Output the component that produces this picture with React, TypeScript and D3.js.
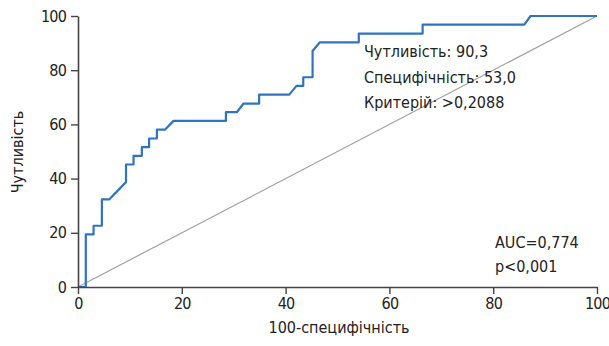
import React, { useEffect, useRef } from 'react';
import * as d3 from 'd3';

// ROC curve vertices (100-specificity, sensitivity)
const fprValues = [0, 1.5, 1.5, 3, 3, 4.6, 4.6, 6.0, 9.25, 9.25, 10.7, 10.7, 12.3, 12.3, 13.7, 13.7, 15.2, 15.2, 16.8, 18.4, 28.5, 28.5, 30.6, 31.9, 34.9, 34.9, 40.7, 42.1, 43.4, 43.4, 45.2, 45.2, 46.6, 54.1, 54.1, 66.4, 66.4, 86.0, 87.2, 100];
const tprValues = [0, 0, 19.4, 19.4, 22.6, 22.6, 32.3, 32.3, 38.7, 45.2, 45.2, 48.4, 48.4, 51.6, 51.6, 54.8, 54.8, 58.1, 58.1, 61.3, 61.3, 64.5, 64.5, 67.7, 67.7, 71.0, 71.0, 74.2, 74.2, 77.4, 77.4, 87.1, 90.3, 90.3, 93.5, 93.5, 96.8, 96.8, 100, 100];
const tickValues = [0, 20, 40, 60, 80, 100];
const cutoffLines = ['Чутливість: 90,3', 'Специфічність: 53,0', 'Критерій: >0,2088'];
const statLines = ['AUC=0,774', 'p<0,001'];
const xTitle = '100-специфічність';
const yTitle = 'Чутливість';

const FONT = '"Liberation Sans Narrow", "DejaVu Sans Condensed", "Roboto", sans-serif';

const App = () => {
    const svgRef = useRef<SVGSVGElement>(null);

    useEffect(() => {
        const svg = d3.select(svgRef.current);
        svg.selectAll('*').remove();

        const x = d3.scaleLinear().domain([0, 100]).range([78, 597]);
        const y = d3.scaleLinear().domain([0, 100]).range([287, 16]);

        const points: [number, number][] = fprValues.map((v, i) => [v, tprValues[i]]);

        // reference diagonal
        svg.append('line')
            .attr('x1', x(0)).attr('y1', y(0))
            .attr('x2', x(100)).attr('y2', y(100))
            .attr('stroke', '#a0a0a0')
            .attr('stroke-width', 1.2);

        const line = d3.line<[number, number]>()
            .x(d => x(d[0]))
            .y(d => y(d[1]));

        svg.append('path')
            .attr('d', line(points))
            .attr('fill', 'none')
            .attr('stroke', '#2f74bf')
            .attr('stroke-width', 2.2)
            .attr('stroke-linejoin', 'round');

        const xAxis = svg.append('g')
            .attr('transform', `translate(0, ${y(0)})`)
            .call(d3.axisBottom(x).tickValues(tickValues).tickSize(7).tickSizeOuter(0).tickPadding(4));
        const yAxis = svg.append('g')
            .attr('transform', `translate(${x(0)}, 0)`)
            .call(d3.axisLeft(y).tickValues(tickValues).tickSize(7).tickSizeOuter(0).tickPadding(5));

        [xAxis, yAxis].forEach(g => {
            g.select('.domain').attr('stroke', '#444').attr('stroke-width', 1.6);
            g.selectAll('.tick line').attr('stroke', '#444').attr('stroke-width', 1.4);
            g.selectAll('.tick text')
                .attr('fill', '#222')
                .style('font-family', FONT)
                .style('font-size', '16px')
                .style('letter-spacing', '-0.8px');
        });

        svg.append('text')
            .attr('x', 339)
            .attr('y', 333)
            .attr('text-anchor', 'middle')
            .attr('fill', '#222')
            .style('font-family', FONT)
            .style('font-size', '16px')
            .text(xTitle);

        svg.append('text')
            .attr('transform', 'translate(23, 152) rotate(-90)')
            .attr('text-anchor', 'middle')
            .attr('fill', '#222')
            .style('font-family', FONT)
            .style('font-size', '16px')
            .text(yTitle);

        svg.append('g').selectAll('text')
            .data(cutoffLines)
            .enter()
            .append('text')
            .attr('x', 364)
            .attr('y', (d, i) => 57 + i * 25.5)
            .attr('fill', '#222')
            .style('font-family', FONT)
            .style('font-size', '16px')
            .text(d => d);

        svg.append('g').selectAll('text')
            .data(statLines)
            .enter()
            .append('text')
            .attr('x', 495)
            .attr('y', (d, i) => 248 + i * 24)
            .attr('fill', '#222')
            .style('font-family', FONT)
            .style('font-size', '16px')
            .text(d => d);
    }, []);

    return (
        <svg ref={svgRef} width={609} height={346}
            style={{ position: 'absolute', left: 0, top: 0, background: '#fff' }}></svg>
    );
};

export default App;
